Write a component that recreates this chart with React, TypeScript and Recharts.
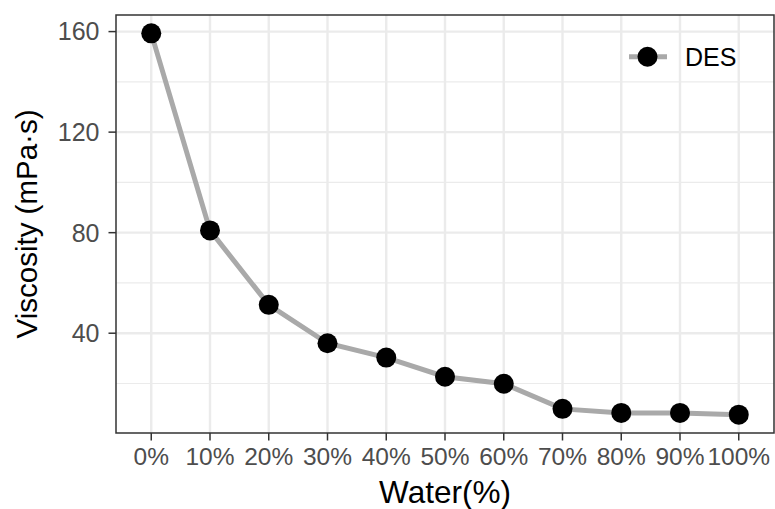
import React from "react";
import {
  LineChart,
  Line,
  XAxis,
  YAxis,
  CartesianGrid,
  ReferenceArea,
} from "recharts";

const waterPercent = [0, 10, 20, 30, 40, 50, 60, 70, 80, 90, 100];
const viscosity = [159.3, 80.9, 51.3, 36.0, 30.3, 22.7, 19.9, 9.9, 8.3, 8.3, 7.6];
const xTicks = [0, 10, 20, 30, 40, 50, 60, 70, 80, 90, 100];
const yMajorTicks = [40, 80, 120, 160];
const yMinorTicks = [20, 60, 100, 140];
const seriesName = "DES";

const data = waterPercent.map((w, i) => ({ water: w, viscosity: viscosity[i] }));

const FONT = '"Liberation Sans", Arial, sans-serif';
const X_DOMAIN: [number, number] = [-6, 106];
const Y_DOMAIN: [number, number] = [0.3, 166.6];

export default function App() {
  return (
    <div style={{ position: "absolute", left: 0, top: 0, width: 775, height: 509, background: "#fff" }}>
      <LineChart
        width={775}
        height={509}
        data={data}
        margin={{ top: 15, right: 1, bottom: 0, left: 0 }}
        style={{ fontFamily: FONT }}
      >
        <CartesianGrid
          horizontalValues={yMinorTicks}
          vertical={false}
          stroke="#EBEBEB"
          strokeWidth={1.2}
        />
        <CartesianGrid
          horizontalValues={yMajorTicks}
          verticalValues={xTicks}
          stroke="#EBEBEB"
          strokeWidth={2.4}
        />
        <XAxis
          dataKey="water"
          type="number"
          domain={X_DOMAIN}
          ticks={xTicks}
          allowDataOverflow
          interval={0}
          tickFormatter={(v: number) => `${v}%`}
          height={76}
          axisLine={false}
          tickLine={{ stroke: "#333333", strokeWidth: 1.5 }}
          tickSize={7.5}
          tickMargin={7.5}
          tick={{ fontSize: 24.5, fill: "#4D4D4D", fontFamily: FONT }}
        />
        <YAxis
          type="number"
          domain={Y_DOMAIN}
          ticks={yMajorTicks}
          allowDataOverflow
          interval={0}
          width={116}
          axisLine={false}
          tickLine={{ stroke: "#333333", strokeWidth: 1.5 }}
          tickSize={7.5}
          tickMargin={9}
          tick={{ fontSize: 25, fill: "#4D4D4D", fontFamily: FONT }}
        />
        <Line
          dataKey="viscosity"
          name={seriesName}
          type="linear"
          stroke="#A9A9A9"
          strokeWidth={5}
          dot={{ r: 10, fill: "#000", stroke: "none" }}
          activeDot={false}
          isAnimationActive={false}
        />
        <ReferenceArea
          x1={X_DOMAIN[0]}
          x2={X_DOMAIN[1]}
          y1={Y_DOMAIN[0]}
          y2={Y_DOMAIN[1]}
          fill="none"
          stroke="#333333"
          strokeWidth={1.5}
          ifOverflow="visible"
        />
      </LineChart>
      <svg
        width={775}
        height={509}
        style={{ position: "absolute", left: 0, top: 0, pointerEvents: "none" }}
      >
        <text
          transform="translate(37, 224) rotate(-90)"
          textAnchor="middle"
          fontFamily={FONT}
          fontSize={29.5}
          fill="#000"
        >
          Viscosity (mPa·s)
        </text>
        <text x={445} y={503} textAnchor="middle" fontFamily={FONT} fontSize={31.5} fill="#000">
          Water(%)
        </text>
        <g>
          <line x1={629} y1={56.7} x2={667} y2={56.7} stroke="#A9A9A9" strokeWidth={5} />
          <circle cx={647.5} cy={56.7} r={10} fill="#000" />
          <text x={685} y={65.5} fontFamily={FONT} fontSize={25} fill="#000">
            {seriesName}
          </text>
        </g>
      </svg>
    </div>
  );
}
